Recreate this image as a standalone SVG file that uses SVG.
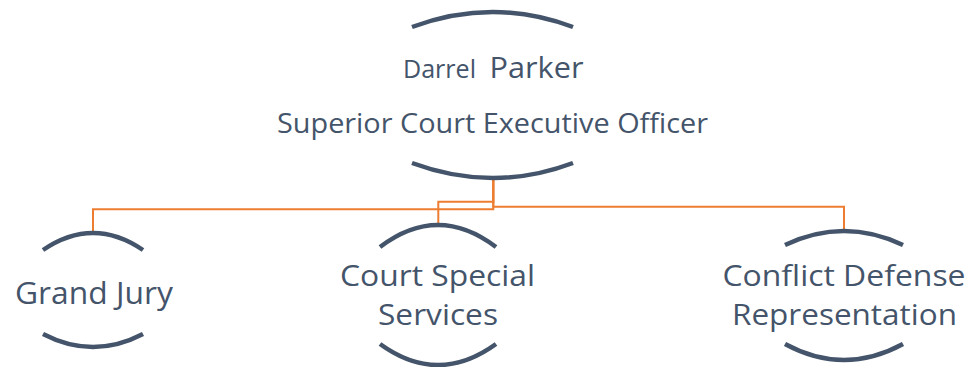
<svg xmlns="http://www.w3.org/2000/svg" width="970" height="367" viewBox="0 0 970 367">
<style>
.arc{fill:none;stroke:#44546A;stroke-width:4.5;stroke-linecap:butt}
.conn{fill:none;stroke:#ED7D31;stroke-width:2}
text{font-family:"Open Sans","Noto Sans",sans-serif;fill:#44546A;text-anchor:middle}
</style>
<rect width="970" height="367" fill="#FFFFFF"/>
<g id="connectors">
<path class="conn" d="M493.3,178 V209.3 H93 V233"/>
<path class="conn" d="M493.3,178 V206.7 H844 V231"/>
<path class="conn" d="M493.3,180 V201.7 H438.3 V225"/>
</g>
<g id="node-parker">
<path class="arc" d="M412,27 Q493,-3 573,27"/>
<path class="arc" d="M412,163 Q493,193 573,163"/>
<text x="493" y="78"><tspan font-size="25" textLength="73" lengthAdjust="spacingAndGlyphs" x="439.5">Darrel</tspan><tspan font-size="29" x="536.5" textLength="94" lengthAdjust="spacingAndGlyphs">Parker</tspan></text>
<text x="492.5" y="133" font-size="28" textLength="431" lengthAdjust="spacingAndGlyphs">Superior Court Executive Officer</text>
</g>
<g id="node-grand-jury">
<path class="arc" d="M43,250 Q93,216 143,250"/>
<path class="arc" d="M43,334 Q93,360 143,334"/>
<text x="94" y="304" font-size="31" textLength="158" lengthAdjust="spacingAndGlyphs">Grand Jury</text>
</g>
<g id="node-court-special">
<path class="arc" d="M380,247 Q438,203 496,247"/>
<path class="arc" d="M380,344 Q438,386 496,344"/>
<text x="437.5" y="286" font-size="30" textLength="195" lengthAdjust="spacingAndGlyphs">Court Special</text>
<text x="438" y="325" font-size="30" textLength="120" lengthAdjust="spacingAndGlyphs">Services</text>
</g>
<g id="node-conflict-defense">
<path class="arc" d="M785,245 Q844,217 903,245"/>
<path class="arc" d="M785,344 Q844,376 903,344"/>
<text x="844" y="286" font-size="30" textLength="243" lengthAdjust="spacingAndGlyphs">Conflict Defense</text>
<text x="844.5" y="325" font-size="30" textLength="225" lengthAdjust="spacingAndGlyphs">Representation</text>
</g>
</svg>
